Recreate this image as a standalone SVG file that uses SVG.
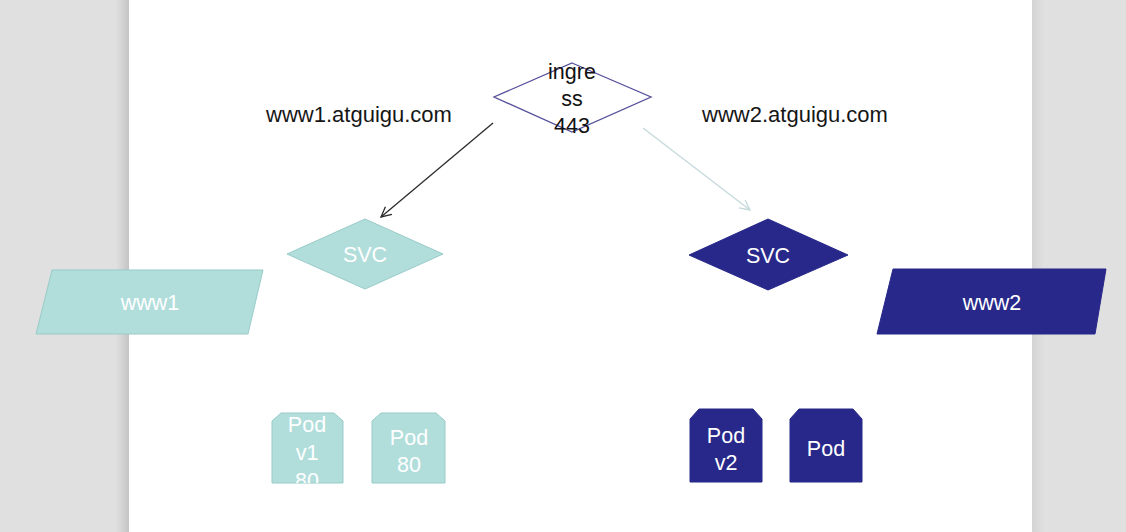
<svg xmlns="http://www.w3.org/2000/svg" width="1126" height="532" viewBox="0 0 1126 532">
  <defs>
    <linearGradient id="shadowL" x1="0" x2="1" y1="0" y2="0">
      <stop offset="0" stop-color="#e0e0e0"/>
      <stop offset="1" stop-color="#c4c4c4"/>
    </linearGradient>
    <linearGradient id="shadowR" x1="0" x2="1" y1="0" y2="0">
      <stop offset="0" stop-color="#d4d4d4"/>
      <stop offset="1" stop-color="#e2e2e2"/>
    </linearGradient>
    <marker id="arrDark" viewBox="0 0 12 12" refX="11" refY="6" markerWidth="12" markerHeight="12" markerUnits="userSpaceOnUse" orient="auto">
      <path d="M1,1 L11,6 L1,11" fill="none" stroke="#2b2b2b" stroke-width="1.3"/>
    </marker>
    <marker id="arrLight" viewBox="0 0 12 12" refX="11" refY="6" markerWidth="12" markerHeight="12" markerUnits="userSpaceOnUse" orient="auto">
      <path d="M1,1 L11,6 L1,11" fill="none" stroke="#c5d9dc" stroke-width="1.3"/>
    </marker>
    <clipPath id="clipPod1"><path d="M272,421 L281,413 L334,413 L343,421 L343,483 L272,483 Z"/></clipPath>
  </defs>
  <style>
    .lbl { font-family: "Liberation Sans", Arial, sans-serif; font-size: 21.5px; text-anchor: middle; }
    .dark { fill: #111111; }
    .white { fill: #ffffff; }
    .teal { fill: #b1dedb; stroke: #98cbc8; stroke-width: 1; }
    .navy { fill: #27288a; stroke: #27288a; stroke-width: 1; }
    .url { font-family: "Liberation Sans", Arial, sans-serif; font-size: 22px; fill: #161616; text-anchor: middle; }
  </style>

  <!-- background -->
  <rect x="0" y="0" width="1126" height="532" fill="#e0e0e0"/>
  <rect x="116" y="0" width="13" height="532" fill="url(#shadowL)"/>
  <rect x="1032" y="0" width="14" height="532" fill="url(#shadowR)"/>
  <rect x="129" y="0" width="903" height="532" fill="#ffffff"/>

  <g id="connectors">
    <line x1="493" y1="123" x2="381" y2="217" stroke="#2b2b2b" stroke-width="1.3" marker-end="url(#arrDark)"/>
    <line x1="643" y1="128" x2="750" y2="210" stroke="#c5d9dc" stroke-width="1.3" marker-end="url(#arrLight)"/>
  </g>

  <g id="label-www1">
    <text class="url" x="359" y="122">www1.atguigu.com</text>
  </g>
  <g id="label-www2">
    <text class="url" x="795" y="122">www2.atguigu.com</text>
  </g>

  <g id="ingress">
    <polygon points="572,63 651,97 572,132 494,97" fill="none" stroke="#55509a" stroke-width="1.3"/>
    <text class="lbl dark" x="572" y="79">ingre</text>
    <text class="lbl dark" x="572" y="106">ss</text>
    <text class="lbl dark" x="572" y="133">443</text>
  </g>

  <g id="svc1">
    <polygon class="teal" points="365,219 443,254 365,289 287,254"/>
    <text class="lbl white" x="365" y="262">SVC</text>
  </g>

  <g id="svc2">
    <polygon class="navy" points="768,219 848,255 768,290 689,255"/>
    <text class="lbl white" x="768" y="263">SVC</text>
  </g>

  <g id="www1">
    <polygon class="teal" points="52,270 263,270 248,334 36,334"/>
    <text class="lbl white" x="150" y="310">www1</text>
  </g>

  <g id="www2">
    <polygon class="navy" points="893,269 1106,269 1095,334 877,334"/>
    <text class="lbl white" x="992" y="310">www2</text>
  </g>

  <g id="pod-v1">
    <path class="teal" d="M272,421 L281,413 L334,413 L343,421 L343,483 L272,483 Z"/>
    <g clip-path="url(#clipPod1)">
      <text class="lbl white" x="307" y="432">Pod</text>
      <text class="lbl white" x="307" y="460">v1</text>
      <text class="lbl white" x="307" y="488">80</text>
    </g>
  </g>

  <g id="pod-80">
    <path class="teal" d="M372,421 L381,413 L436,413 L445,421 L445,483 L372,483 Z"/>
    <text class="lbl white" x="409" y="445">Pod</text>
    <text class="lbl white" x="409" y="472">80</text>
  </g>

  <g id="pod-v2">
    <path class="navy" d="M690,419 L699,409 L753,409 L762,419 L762,482 L690,482 Z"/>
    <text class="lbl white" x="726" y="443">Pod</text>
    <text class="lbl white" x="726" y="470">v2</text>
  </g>

  <g id="pod">
    <path class="navy" d="M790,419 L799,409 L853,409 L862,419 L862,482 L790,482 Z"/>
    <text class="lbl white" x="826" y="456">Pod</text>
  </g>
</svg>
